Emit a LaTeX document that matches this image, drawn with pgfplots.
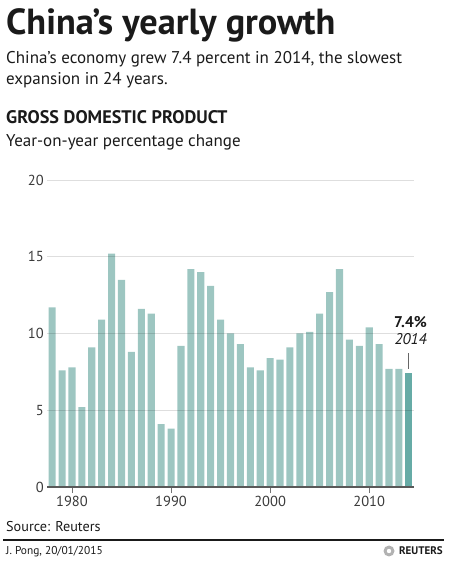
\documentclass[border=0pt]{standalone}
\usepackage{fontspec}
\setmainfont{PT Sans}
\usepackage{pgfplots}
\pgfplotsset{compat=1.18}
\definecolor{barc}{HTML}{9DC6C1}
\definecolor{barh}{HTML}{66ABA6}
\definecolor{txt}{HTML}{1A1A1A}
\definecolor{lab}{HTML}{3A3A3A}
\begin{document}
\begin{tikzpicture}[x=1pt,y=1pt]
\path[use as bounding box] (0,0) rectangle (450,562);
% titles
\node[anchor=base west,inner sep=0,font=\fontsize{36.3}{36}\selectfont\bfseries,text=txt] at (6,527) {China’s yearly growth};
\node[anchor=base west,inner sep=0,font=\fontsize{17}{17}\selectfont,text=txt] at (6,498) {China’s economy grew 7.4 percent in 2014, the slowest};
\node[anchor=base west,inner sep=0,font=\fontsize{17}{17}\selectfont,text=txt] at (6,477) {expansion in 24 years.};
\node[anchor=base west,inner sep=0,font=\fontsize{18.2}{18}\selectfont\bfseries,text=txt] at (6,438) {GROSS DOMESTIC PRODUCT};
\node[anchor=base west,inner sep=0,font=\fontsize{17}{17}\selectfont,text=txt] at (6,415) {Year-on-year percentage change};
% footer
\node[anchor=base west,inner sep=0,font=\fontsize{14.2}{14}\selectfont,text=txt] at (6,30) {Source: Reuters};
\draw[line width=1.2pt,txt] (3,22) -- (444,22);
\node[anchor=base west,inner sep=0,font=\fontsize{11.4}{11.4}\selectfont,text=txt] at (6,7) {J. Pong, 20/01/2015};
\node[anchor=base east,inner sep=0,font=\fontsize{11}{11}\selectfont\bfseries,text=txt] at (443,7) {REUTERS};
\fill[gray!60] (389,11) circle (5.5);
\fill[white] (389,11) circle (2.2);
\begin{axis}[
  at={(47.2pt,75pt)}, anchor=south west, scale only axis,
  width=366.6pt, height=307pt,
  xmin=1977.5, xmax=2014.5, ymin=0, ymax=20,
  axis on top,
  axis x line*=bottom, axis y line*=left,
  y axis line style={draw=none},
  x axis line style={draw=black!65, line width=1.3pt, -},
  ytick={0,5,10,15,20},
  xtick={1980,1990,2000,2010},
  ytick style={draw=none},
  xtick style={draw=black!55, line width=0.9pt},
  xtick align=outside, major tick length=6pt,
  ymajorgrids, grid style={black, opacity=0.13, line width=0.9pt},
  /pgf/number format/1000 sep={},
  /pgf/number format/assume math mode=true,
  tick label style={font=\fontsize{14.5}{14.5}\selectfont, text=lab},
  xticklabel style={yshift=0pt},
  yticklabel style={xshift=0pt},
  clip=false,
]
\addplot[ybar, bar width=7.1pt, bar shift=0pt, fill=barc, draw=none] coordinates {
(1978,11.7) (1979,7.6) (1980,7.8) (1981,5.2) (1982,9.1) (1983,10.9) (1984,15.2)
(1985,13.5) (1986,8.8) (1987,11.6) (1988,11.3) (1989,4.1) (1990,3.8) (1991,9.2)
(1992,14.2) (1993,14.0) (1994,13.1) (1995,10.9) (1996,10.0) (1997,9.3) (1998,7.8)
(1999,7.6) (2000,8.4) (2001,8.3) (2002,9.1) (2003,10.0) (2004,10.1) (2005,11.3)
(2006,12.7) (2007,14.2) (2008,9.6) (2009,9.2) (2010,10.4) (2011,9.3) (2012,7.7)
(2013,7.7)};
\addplot[ybar, bar width=7.1pt, bar shift=0pt, fill=barh, draw=none] coordinates {(2014,7.4)};
\draw[black!60, line width=0.9pt] (axis cs:2014,7.7) -- (axis cs:2014,8.75);
\end{axis}
\node[anchor=base east,inner sep=0,font=\fontsize{15.5}{15}\selectfont\bfseries,text=txt] at (427,234) {7.4\%};
\node[anchor=base east,inner sep=0,font=\fontsize{15.5}{15}\selectfont\itshape,text=txt] at (427,217) {2014};
\end{tikzpicture}
\end{document}
